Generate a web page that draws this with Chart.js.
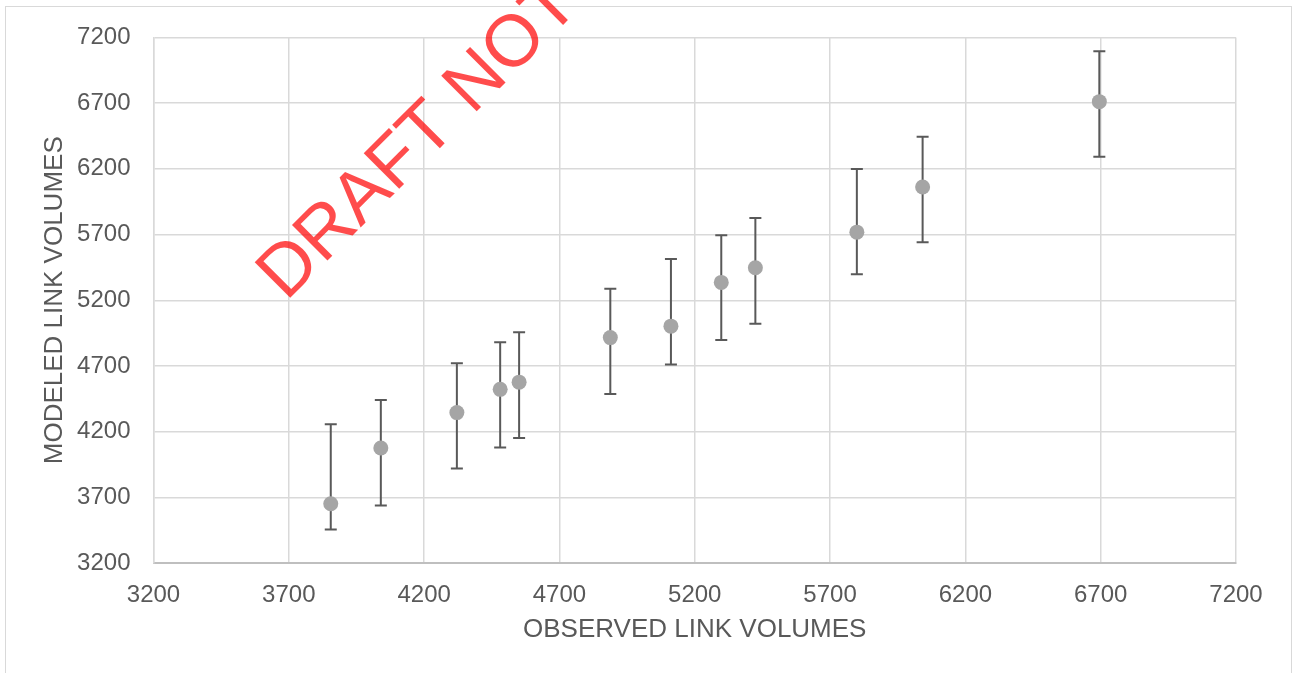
<!DOCTYPE html>
<html>
<head>
<meta charset="utf-8">
<script src="https://cdn.jsdelivr.net/npm/chart.js@4.4.1/dist/chart.umd.min.js"></script>
<style>
  html, body { margin: 0; padding: 0; background: #fff; }
  #wrap { width: 1294px; height: 673px; }
</style>
</head>
<body>
<div id="wrap"><canvas id="chart" width="1294" height="673"></canvas></div>
<script>
// Values
const observed = [3855, 4040, 4321, 4481, 4551, 4888, 5112, 5298, 5424, 5799, 6042, 6695]
const modeled = [3652, 4076, 4345, 4522, 4577, 4916, 5003, 5336, 5447, 5718, 6062, 6711]
const errorHigh = [4257, 4441, 4721, 4880, 4956, 5288, 5513, 5695, 5826, 6198, 6444, 7094]
const errorLow = [3456, 3639, 3919, 4080, 4152, 4487, 4711, 4897, 5021, 5398, 5642, 6292]
const axisMin = 3200
const axisMax = 7200
const axisStep = 500
const xTitle = 'OBSERVED LINK VOLUMES'
const yTitle = 'MODELED LINK VOLUMES'
const watermark = 'DRAFT NOT'

const FONT = '"Liberation Sans", Arial, sans-serif'
const TEXT = '#595959'
const GRID = '#D9D9D9'

// Outer chart frame, like the Excel chart border
const framePlugin = {
  id: 'frame',
  beforeDraw(chart) {
    const ctx = chart.ctx
    ctx.save()
    ctx.fillStyle = '#fff'
    ctx.fillRect(0, 0, chart.width, chart.height)
    ctx.strokeStyle = GRID
    ctx.lineWidth = 1
    ctx.strokeRect(5.5, 6.5, 1286, 700)
    ctx.restore()
  }
}

// Vertical error bars with caps, drawn under the markers
const errorBarPlugin = {
  id: 'errorBars',
  beforeDatasetsDraw(chart) {
    const ctx = chart.ctx
    const xs = chart.scales.x
    const ys = chart.scales.y
    ctx.save()
    ctx.strokeStyle = '#595959'
    ctx.lineWidth = 2
    observed.forEach((ov, i) => {
      const px = xs.getPixelForValue(ov)
      const top = ys.getPixelForValue(errorHigh[i])
      const bot = ys.getPixelForValue(errorLow[i])
      ctx.beginPath()
      ctx.moveTo(px, top)
      ctx.lineTo(px, bot)
      ctx.moveTo(px - 6, top)
      ctx.lineTo(px + 6, top)
      ctx.moveTo(px - 6, bot)
      ctx.lineTo(px + 6, bot)
      ctx.stroke()
    })
    ctx.restore()
  }
}

// Diagonal red watermark
const watermarkPlugin = {
  id: 'watermark',
  afterDraw(chart) {
    const ctx = chart.ctx
    ctx.save()
    ctx.translate(286, 302)
    ctx.rotate(-Math.PI / 4)
    ctx.font = '73px ' + FONT
    ctx.fillStyle = 'rgba(255, 0, 0, 0.7)'
    ctx.textBaseline = 'alphabetic'
    ctx.textAlign = 'left'
    ctx.fillText(watermark, 0, 0)
    ctx.restore()
  }
}

const points = observed.map((x, i) => ({ x: x, y: modeled[i] }))
const plainTick = v => String(v)

const ctx = document.getElementById('chart').getContext('2d')
new Chart(ctx, {
  type: 'scatter',
  data: {
    datasets: [{
      label: 'Modeled vs observed',
      data: points,
      pointRadius: 7.5,
      pointHoverRadius: 7.5,
      pointBackgroundColor: '#A5A5A5',
      pointBorderWidth: 0,
      borderWidth: 0
    }]
  },
  options: {
    responsive: false,
    animation: false,
    layout: {
      padding: { left: 39.4, top: 34.3, right: 58, bottom: 27.4 }
    },
    plugins: {
      legend: { display: false },
      tooltip: { enabled: false }
    },
    scales: {
      x: {
        type: 'linear',
        min: axisMin,
        max: axisMax,
        ticks: {
          stepSize: axisStep,
          callback: plainTick,
          color: TEXT,
          font: { family: FONT, size: 24 },
          padding: 18,
          maxRotation: 0
        },
        grid: { color: GRID, lineWidth: 1.5, drawTicks: false },
        border: { display: true, color: '#BFBFBF', width: 2 },
        title: {
          display: true,
          text: xTitle,
          color: TEXT,
          font: { family: FONT, size: 26 },
          padding: 0
        },
        afterFit(scale) { scale.height = 82.5 }
      },
      y: {
        type: 'linear',
        min: axisMin,
        max: axisMax,
        ticks: {
          stepSize: axisStep,
          callback: plainTick,
          color: TEXT,
          font: { family: FONT, size: 24 },
          padding: 23
        },
        grid: { color: GRID, lineWidth: 1.5, drawTicks: false },
        border: { display: true, color: GRID, width: 1.5 },
        title: {
          display: true,
          text: yTitle,
          color: TEXT,
          font: { family: FONT, size: 26 },
          padding: 0
        },
        afterFit(scale) { scale.width = 114.1 }
      }
    }
  },
  plugins: [framePlugin, errorBarPlugin, watermarkPlugin]
})
</script>
</body>
</html>
